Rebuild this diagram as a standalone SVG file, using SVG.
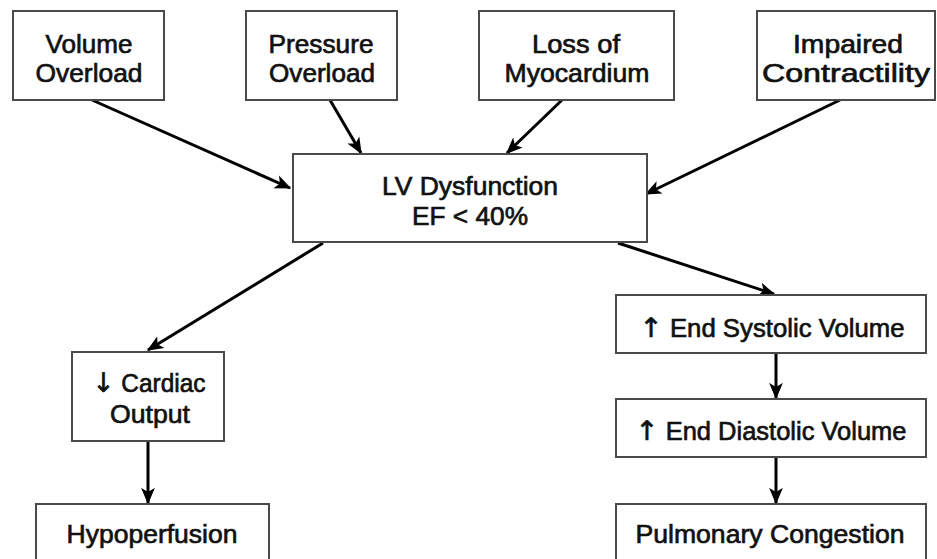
<svg xmlns="http://www.w3.org/2000/svg" width="937" height="559" viewBox="0 0 937 559">
<style>
.box{fill:#fff;stroke:#4a4a4a;stroke-width:2}
.t{font-family:"Liberation Sans",Arial,sans-serif;font-size:25px;fill:#111;text-anchor:middle;stroke:#111;stroke-width:0.65}
.ar{font-family:"DejaVu Sans",sans-serif;font-size:27px}
.c{stroke:#000;stroke-width:3;fill:none;marker-end:url(#ah)}
</style>
<defs>
<marker id="ah" viewBox="0 0 12 10" refX="11" refY="5" markerWidth="5.5" markerHeight="5" orient="auto" markerUnits="strokeWidth">
<path d="M0,0 L12,5 L0,10 L3,5 Z" fill="#000"/>
</marker>
</defs>
<rect width="937" height="559" fill="#fff"/>
<g id="connectors">
<line class="c" x1="92" y1="100" x2="290" y2="188"/>
<line class="c" x1="330" y1="100" x2="361" y2="153"/>
<line class="c" x1="562" y1="100" x2="507" y2="153"/>
<line class="c" x1="840" y1="100" x2="646" y2="194"/>
<line class="c" x1="323" y1="243" x2="148" y2="350"/>
<line class="c" x1="618" y1="243" x2="774" y2="294"/>
<line class="c" x1="148" y1="441" x2="148" y2="503"/>
<line class="c" x1="776" y1="353" x2="776" y2="398"/>
<line class="c" x1="776" y1="457" x2="776" y2="503"/>
</g>
<g id="volume">
<rect class="box" x="13" y="11" width="151" height="89"/>
<text class="t" x="89" y="53" textLength="87" lengthAdjust="spacingAndGlyphs">Volume</text>
<text class="t" x="89" y="82" textLength="107" lengthAdjust="spacingAndGlyphs">Overload</text>
</g>
<g id="pressure">
<rect class="box" x="246" y="11" width="151" height="89"/>
<text class="t" x="321" y="53" textLength="105" lengthAdjust="spacingAndGlyphs">Pressure</text>
<text class="t" x="322" y="82" textLength="106" lengthAdjust="spacingAndGlyphs">Overload</text>
</g>
<g id="loss">
<rect class="box" x="479" y="11" width="195" height="89"/>
<text class="t" x="576" y="53" textLength="88" lengthAdjust="spacingAndGlyphs">Loss of</text>
<text class="t" x="577" y="82" textLength="145" lengthAdjust="spacingAndGlyphs">Myocardium</text>
</g>
<g id="impaired">
<rect class="box" x="757" y="11" width="178" height="89"/>
<text class="t" x="848" y="53" textLength="110" lengthAdjust="spacingAndGlyphs">Impaired</text>
<text class="t" x="846" y="82" textLength="168" lengthAdjust="spacingAndGlyphs">Contractility</text>
</g>
<g id="lv">
<rect class="box" x="293" y="154" width="354" height="88"/>
<text class="t" x="470" y="195" textLength="176" lengthAdjust="spacingAndGlyphs">LV Dysfunction</text>
<text class="t" x="470" y="225" textLength="116" lengthAdjust="spacingAndGlyphs">EF &lt; 40%</text>
</g>
<g id="cardiac">
<rect class="box" x="72" y="352" width="152" height="89"/>
<text class="t" x="149" y="392" textLength="113" lengthAdjust="spacingAndGlyphs"><tspan class="ar">↓</tspan> Cardiac</text>
<text class="t" x="150" y="423" textLength="80" lengthAdjust="spacingAndGlyphs">Output</text>
</g>
<g id="hypo">
<rect class="box" x="36" y="504" width="233" height="70"/>
<text class="t" x="152" y="543" textLength="171" lengthAdjust="spacingAndGlyphs">Hypoperfusion</text>
</g>
<g id="esv">
<rect class="box" x="616" y="295" width="310" height="58"/>
<text class="t" x="772" y="337" textLength="265" lengthAdjust="spacingAndGlyphs"><tspan class="ar">↑</tspan> End Systolic Volume</text>
</g>
<g id="edv">
<rect class="box" x="616" y="399" width="310" height="58"/>
<text class="t" x="771" y="440" textLength="271" lengthAdjust="spacingAndGlyphs"><tspan class="ar">↑</tspan> End Diastolic Volume</text>
</g>
<g id="pulm">
<rect class="box" x="616" y="504" width="310" height="70"/>
<text class="t" x="770" y="543" textLength="269" lengthAdjust="spacingAndGlyphs">Pulmonary Congestion</text>
</g>
</svg>
